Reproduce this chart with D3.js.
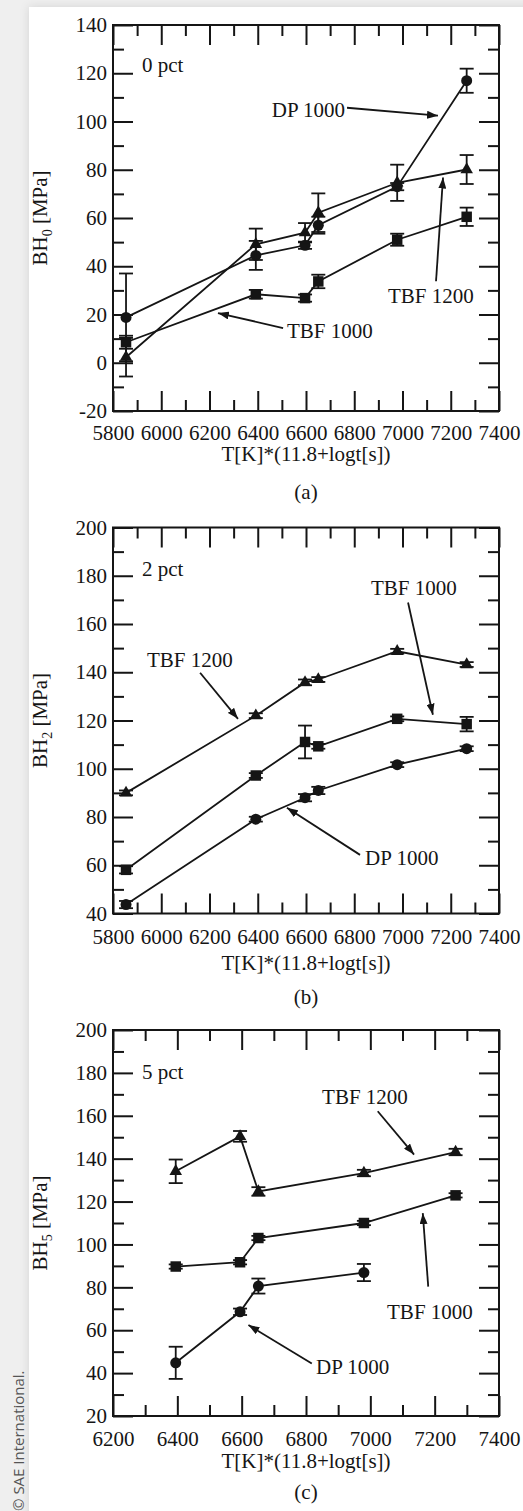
<!DOCTYPE html>
<html>
<head>
<meta charset="utf-8">
<script src="https://cdn.jsdelivr.net/npm/d3@7"></script>
<style>
body { margin:0; background:#efefef; }
svg { display:block; }
</style>
</head>
<body>
<div id="chart"></div>
<script>
// T*(11.8+log t) parameter of each anneal
var xVals = [5854, 6392, 6596, 6651, 6978, 7266];
var xValsC = [6395, 6595, 6652, 6980, 7265];

// tick labels
var xTicksAB = [5800, 6000, 6200, 6400, 6600, 6800, 7000, 7200, 7400];
var xTicksC = [6200, 6400, 6600, 6800, 7000, 7200, 7400];
var yTicksA = [-20, 0, 20, 40, 60, 80, 100, 120, 140];
var yTicksB = [40, 60, 80, 100, 120, 140, 160, 180, 200];
var yTicksC = [20, 40, 60, 80, 100, 120, 140, 160, 180, 200];

// (a) 0 pct
var dpA = [18.8, 44.5, 48.7, 57.0, 73.0, 116.9];
var dpAErr = [18.2, 6, 1.5, 3.5, 1.5, 5];
var tbf1200A = [2.3, 49.1, 53.9, 62.2, 74.6, 80.1];
var tbf1200AErr = [8, 6.5, 4, 8, 7.5, 6];
var tbf1000A = [8.5, 28.4, 26.8, 33.7, 51.0, 60.5];
var tbf1000AErr = [2.7, 1.8, 1.5, 2.8, 2.5, 3.8];

// (b) 2 pct
var dpB = [43.7, 79.1, 88.0, 91.0, 101.7, 108.3];
var dpBErr = [1.5, 1, 1.5, 1.5, 1, 1];
var tbf1200B = [90.0, 122.0, 135.8, 137.0, 148.7, 143.2];
var tbf1200BErr = [1, 1, 1.2, 1, 1, 1];
var tbf1000B = [58.1, 97.2, 111.1, 109.3, 120.7, 118.5];
var tbf1000BErr = [1.5, 1, 6.8, 1, 1, 3];

// (c) 5 pct
var dpC = [44.8, 68.6, 80.6, 86.9];
var dpCErr = [7.5, 1.5, 3.5, 4];
var tbf1200C = [134.1, 150.4, 124.7, 133.3, 143.1];
var tbf1200CErr = [5.5, 2.5, 2, 1.5, 1.5];
var tbf1000C = [89.7, 91.7, 103.0, 110.0, 122.9];
var tbf1000CErr = [1, 1, 1, 1, 1];

// annotations: text, text anchor point, arrow start, arrow tip (data units)
var notesA = [
    ['DP 1000', 'end', [6762, 102], [6770, 105.7], [7147, 102.4]],
    ['TBF 1200', 'start', [6940, 24.7], [7139, 33.8], [7168, 76.8]],
    ['TBF 1000', 'start', [6521, 10.3], [6505, 14.4], [6235, 20.6]]
];
var notesB = [
    ['TBF 1200', 'start', [5941, 142.3], [6161, 139.8], [6318, 120.7]],
    ['TBF 1000', 'start', [6869, 172.2], [7023, 168.9], [7126, 122.4]],
    ['DP 1000', 'start', [6845, 60.0], [6824, 64.3], [6521, 83.8]]
];
var notesC = [
    ['TBF 1200', 'start', [6850, 165.7], [7023, 162.1], [7136, 141.9]],
    ['TBF 1000', 'start', [7052, 65.2], [7180, 80.3], [7163, 114.6]],
    ['DP 1000', 'start', [6831, 39.5], [6818, 44.5], [6621, 62.4]]
];

var serif = "'Liberation Serif', 'Times New Roman', serif";
var ink = '#151515';
var W = 386, H = 386;

var svg = d3.select('#chart').append('svg')
    .attr('width', 523)
    .attr('height', 1511);

var defs = svg.append('defs');
var shadow = defs.append('filter').attr('id', 'shadow')
    .attr('x', '-5%').attr('y', '-5%').attr('width', '110%').attr('height', '110%');
shadow.append('feDropShadow')
    .attr('dx', 0).attr('dy', 0)
    .attr('stdDeviation', 5)
    .attr('flood-color', '#000')
    .attr('flood-opacity', 0.12);
defs.append('marker')
    .attr('id', 'head')
    .attr('markerUnits', 'userSpaceOnUse')
    .attr('viewBox', '0 0 11 8')
    .attr('markerWidth', 11)
    .attr('markerHeight', 8)
    .attr('refX', 11)
    .attr('refY', 4)
    .attr('orient', 'auto')
  .append('path')
    .attr('d', 'M0,0L11,4L0,8Z')
    .attr('fill', ink);

svg.append('rect').attr('width', 523).attr('height', 1511).attr('fill', '#efefef');
svg.append('rect')
    .attr('x', 29).attr('y', 7)
    .attr('width', 520).attr('height', 1530)
    .attr('fill', '#fff')
    .attr('filter', 'url(#shadow)');

svg.append('text')
    .attr('transform', 'translate(24,1511) rotate(-90)')
    .attr('font-family', "'Open Sans', 'Liberation Sans', sans-serif")
    .attr('font-size', 15)
    .attr('fill', '#555')
    .text('\u00a9 SAE International.');

function minors(ticks) {
    var m = [];
    for (var i = 0; i < ticks.length - 1; i++) {
        m.push((ticks[i] + ticks[i + 1]) / 2);
    }
    return m;
}

function plain(d) { return String(d); }

function styleAxis(sel) {
    sel.select('.domain').remove();
    sel.selectAll('line').attr('stroke', ink).attr('stroke-width', 2);
    sel.selectAll('text')
        .attr('font-family', serif)
        .attr('font-size', 21)
        .attr('fill', ink);
}

function drawPanel(p) {
    var g = svg.append('g').attr('transform', 'translate(113,' + p.top + ')');
    var x = d3.scaleLinear().domain(p.xDomain).range([0, W]);
    var y = d3.scaleLinear().domain(p.yDomain).range([H, 0]);
    var xMin = minors(p.xTicks), yMin = minors(p.yTicks);

    // major ticks + labels
    g.append('g').attr('transform', 'translate(0,' + H + ')')
        .call(d3.axisBottom(x).tickValues(p.xTicks).tickFormat(plain).tickSizeInner(-20).tickSizeOuter(0).tickPadding(p.tickPad))
        .call(styleAxis);
    g.append('g')
        .call(d3.axisLeft(y).tickValues(p.yTicks).tickFormat(plain).tickSizeInner(-20).tickSizeOuter(0).tickPadding(6))
        .call(styleAxis);
    g.append('g')
        .call(d3.axisTop(x).tickValues(p.xTicks).tickSizeInner(-20).tickSizeOuter(0).tickFormat(''))
        .call(styleAxis);
    g.append('g').attr('transform', 'translate(' + W + ',0)')
        .call(d3.axisRight(y).tickValues(p.yTicks).tickSizeInner(-20).tickSizeOuter(0).tickFormat(''))
        .call(styleAxis);
    // minor ticks
    g.append('g').attr('transform', 'translate(0,' + H + ')')
        .call(d3.axisBottom(x).tickValues(xMin).tickSizeInner(-11).tickSizeOuter(0).tickFormat(''))
        .call(styleAxis);
    g.append('g')
        .call(d3.axisTop(x).tickValues(xMin).tickSizeInner(-11).tickSizeOuter(0).tickFormat(''))
        .call(styleAxis);
    g.append('g')
        .call(d3.axisLeft(y).tickValues(yMin).tickSizeInner(-11).tickSizeOuter(0).tickFormat(''))
        .call(styleAxis);
    g.append('g').attr('transform', 'translate(' + W + ',0)')
        .call(d3.axisRight(y).tickValues(yMin).tickSizeInner(-11).tickSizeOuter(0).tickFormat(''))
        .call(styleAxis);

    g.append('rect')
        .attr('width', W).attr('height', H)
        .attr('fill', 'none')
        .attr('stroke', ink)
        .attr('stroke-width', 2);

    // series
    p.series.forEach(function(s) {
        var pts = s.vals.map(function(v, i) { return [p.xs[i], v, s.err[i]]; });
        var line = d3.line()
            .x(function(d) { return x(d[0]); })
            .y(function(d) { return y(d[1]); });
        g.append('path')
            .attr('d', line(pts))
            .attr('fill', 'none')
            .attr('stroke', ink)
            .attr('stroke-width', 1.8);

        var eb = g.append('g').attr('stroke', ink).attr('stroke-width', 1.8);
        pts.forEach(function(d) {
            var cx = x(d[0]), y0 = y(d[1] - d[2]), y1 = y(d[1] + d[2]);
            eb.append('line').attr('x1', cx).attr('x2', cx).attr('y1', y0).attr('y2', y1);
            eb.append('line').attr('x1', cx - 7).attr('x2', cx + 7).attr('y1', y0).attr('y2', y0);
            eb.append('line').attr('x1', cx - 7).attr('x2', cx + 7).attr('y1', y1).attr('y2', y1);
        });

        g.selectAll(null)
            .data(pts)
            .enter()
            .append('path')
            .attr('transform', function(d) { return 'translate(' + x(d[0]) + ',' + y(d[1]) + ')'; })
            .attr('d', d3.symbol().type(s.shape).size(s.size))
            .attr('fill', ink);
    });

    // labels & arrows
    g.append('text')
        .attr('x', x(p.tag[1][0])).attr('y', y(p.tag[1][1]))
        .attr('font-family', serif).attr('font-size', 21).attr('fill', ink)
        .text(p.tag[0]);
    p.notes.forEach(function(n) {
        g.append('text')
            .attr('x', x(n[2][0])).attr('y', y(n[2][1]))
            .attr('text-anchor', n[1])
            .attr('font-family', serif).attr('font-size', 21).attr('fill', ink)
            .text(n[0]);
        g.append('line')
            .attr('x1', x(n[3][0])).attr('y1', y(n[3][1]))
            .attr('x2', x(n[4][0])).attr('y2', y(n[4][1]))
            .attr('stroke', ink).attr('stroke-width', 1.8)
            .attr('marker-end', 'url(#head)');
    });

    // axis titles
    g.append('text')
        .attr('x', W / 2).attr('y', H + p.titleOff)
        .attr('text-anchor', 'middle')
        .attr('font-family', serif).attr('font-size', 21).attr('fill', ink)
        .text('T[K]*(11.8+logt[s])');
    var yt = g.append('text')
        .attr('transform', 'translate(-66,' + (H / 2) + ') rotate(-90)')
        .attr('text-anchor', 'middle')
        .attr('font-family', serif).attr('font-size', 21).attr('fill', ink);
    yt.append('tspan').text('BH');
    yt.append('tspan').attr('font-size', 14).attr('dy', 5).text(p.sub);
    yt.append('tspan').attr('dy', -5).text('\u00a0[MPa]');

    g.append('text')
        .attr('x', W / 2).attr('y', H + p.capOff)
        .attr('text-anchor', 'middle')
        .attr('font-family', serif).attr('font-size', 21).attr('fill', ink)
        .text(p.cap);
}

var tri = d3.symbolTriangle, sq = d3.symbolSquare, circ = d3.symbolCircle;

drawPanel({
    top: 25, xDomain: [5800, 7400], yDomain: [-20, 140],
    xTicks: xTicksAB, yTicks: yTicksA, xs: xVals,
    tickPad: 14, titleOff: 50, capOff: 88, cap: '(a)', sub: '0',
    tag: ['0 pct', [5920, 120.6]],
    series: [
        { vals: dpA, err: dpAErr, shape: circ, size: 95 },
        { vals: tbf1200A, err: tbf1200AErr, shape: tri, size: 68 },
        { vals: tbf1000A, err: tbf1000AErr, shape: sq, size: 110 }
    ],
    notes: notesA
});

drawPanel({
    top: 527.5, xDomain: [5800, 7400], yDomain: [40, 200],
    xTicks: xTicksAB, yTicks: yTicksB, xs: xVals,
    tickPad: 16, titleOff: 56, capOff: 90, cap: '(b)', sub: '2',
    tag: ['2 pct', [5920, 179.7]],
    series: [
        { vals: dpB, err: dpBErr, shape: circ, size: 95 },
        { vals: tbf1200B, err: tbf1200BErr, shape: tri, size: 68 },
        { vals: tbf1000B, err: tbf1000BErr, shape: sq, size: 110 }
    ],
    notes: notesB
});

drawPanel({
    top: 1030, xDomain: [6200, 7400], yDomain: [20, 200],
    xTicks: xTicksC, yTicks: yTicksC, xs: xValsC,
    tickPad: 15, titleOff: 52, capOff: 83, cap: '(c)', sub: '5',
    tag: ['5 pct', [6290, 177]],
    series: [
        { vals: dpC, err: dpCErr, shape: circ, size: 95 },
        { vals: tbf1200C, err: tbf1200CErr, shape: tri, size: 68 },
        { vals: tbf1000C, err: tbf1000CErr, shape: sq, size: 110 }
    ],
    notes: notesC
});
</script>
</body>
</html>
